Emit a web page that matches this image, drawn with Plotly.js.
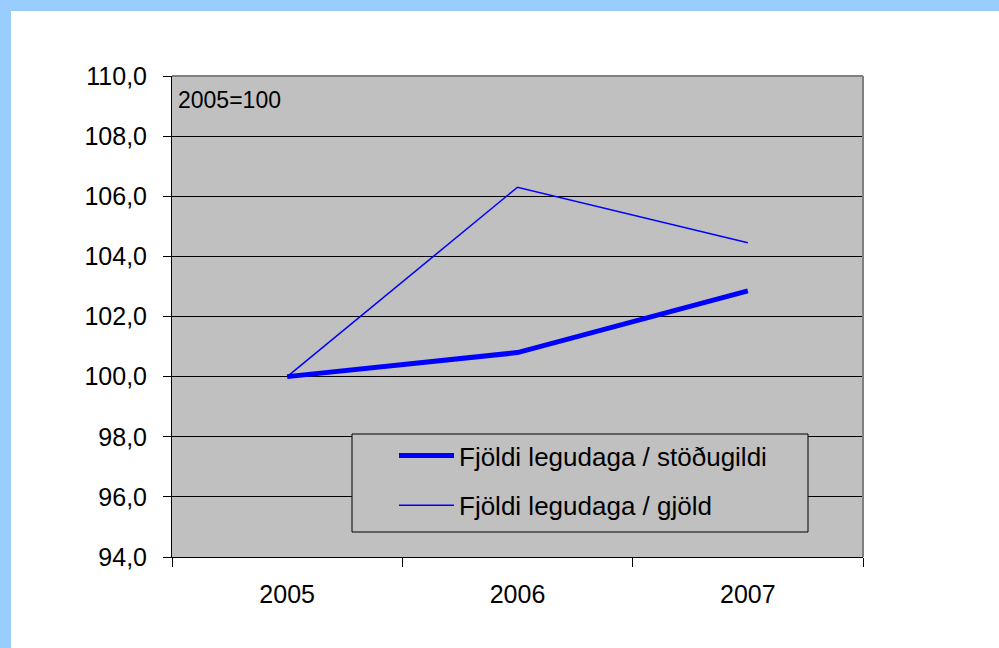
<!DOCTYPE html>
<html><head><meta charset="utf-8">
<script src="https://cdn.plot.ly/plotly-3.0.1.min.js"></script>
<style>html,body{margin:0;padding:0;background:#fff;}#chart{width:999px;height:648px;}</style>
</head><body><div id="chart"></div>
<script>
const years = ['2005', '2006', '2007'];
const stodugildi = [100.0, 100.8, 102.85];
const gjold = [100.0, 106.3, 104.45];
const seriesNames = ['Fjöldi legudaga / stöðugildi', 'Fjöldi legudaga / gjöld'];
const baseLabel = '2005=100';

const L = 172, R = 863, T = 76, B = 557, W = 999, H = 648;
const px = x => (x - L) / (R - L);
const py = y => (B - y) / (B - T);
const FONT = 'Liberation Sans, Arial, sans-serif';

const traces = [
  {x: years, y: stodugildi, name: seriesNames[0], type: 'scatter', mode: 'lines',
   line: {color: '#0000FF', width: 5}, legendgroup: 'a'},
  {x: years, y: gjold, name: seriesNames[1], type: 'scatter', mode: 'lines',
   line: {color: '#0000FF', width: 1.5}, legendgroup: 'b'}
];

const layout = {
  width: W, height: H,
  margin: {l: L, r: W - R, t: T, b: H - B, pad: 0},
  paper_bgcolor: '#FFFFFF',
  plot_bgcolor: '#C0C0C0',
  separators: ', ',
  font: {family: FONT, color: '#000000', size: 25},
  showlegend: true,
  legend: {
    x: px(394), xanchor: 'left', y: py(432), yanchor: 'top',
    bgcolor: 'rgba(0,0,0,0)', borderwidth: 0,
    font: {family: FONT, size: 26, color: '#000'},
    tracegroupgap: 13, itemwidth: 55
  },
  xaxis: {
    type: 'category', range: [-0.5, 2.5], fixedrange: true,
    showgrid: false, zeroline: false,
    showline: true, linecolor: '#000', linewidth: 1,
    ticks: 'outside', tickson: 'boundaries', ticklen: 9, tickcolor: '#000', tickwidth: 1,
    ticklabelstandoff: 15,
    tickfont: {family: FONT, size: 25, color: '#000'}
  },
  yaxis: {
    range: [94, 110], dtick: 2, tick0: 94, tickformat: '.1f', fixedrange: true,
    showgrid: true, gridcolor: '#000', gridwidth: 1, zeroline: false,
    showline: true, linecolor: '#000', linewidth: 1,
    ticks: 'outside', ticklen: 8, tickcolor: '#000', tickwidth: 1,
    ticklabelstandoff: 11,
    tickfont: {family: FONT, size: 25, color: '#000'}
  },
  shapes: [
    {type: 'rect', xref: 'paper', yref: 'paper', x0: px(0), x1: px(W), y0: py(0), y1: py(11),
     fillcolor: '#99CCFF', line: {width: 0}, layer: 'below'},
    {type: 'rect', xref: 'paper', yref: 'paper', x0: px(0), x1: px(11), y0: py(0), y1: py(H),
     fillcolor: '#99CCFF', line: {width: 0}, layer: 'below'},
    {type: 'line', xref: 'paper', yref: 'paper', x0: 0, x1: 1, y0: 1, y1: 1,
     line: {color: '#808080', width: 2}},
    {type: 'line', xref: 'paper', yref: 'paper', x0: 1, x1: 1, y0: 0, y1: 1,
     line: {color: '#808080', width: 2}},
    {type: 'rect', xref: 'paper', yref: 'paper', x0: px(352), x1: px(808), y0: py(434), y1: py(532),
     fillcolor: '#C0C0C0', line: {color: '#000', width: 1}, layer: 'above'}
  ],
  annotations: [
    {text: baseLabel, xref: 'paper', yref: 'paper', x: px(176), y: py(100),
     xanchor: 'left', yanchor: 'middle', showarrow: false,
     font: {family: FONT, size: 23, color: '#000'}}
  ]
};

Plotly.newPlot('chart', traces, layout, {displayModeBar: false, staticPlot: true});
</script></body></html>
